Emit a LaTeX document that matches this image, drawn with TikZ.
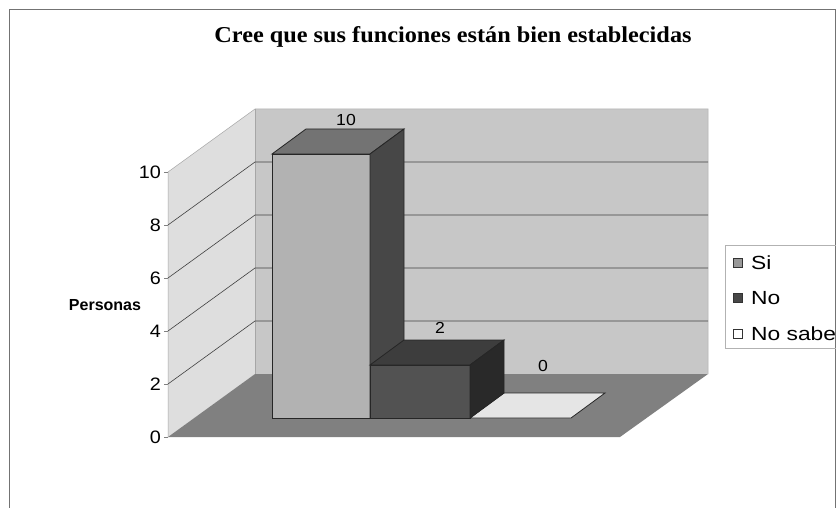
\documentclass[tikz,border=0pt]{standalone}
\usepackage{graphicx}
\usepackage{fontspec}
\setmainfont{Liberation Sans}
\newfontfamily\titlefont{Liberation Serif}
\newcommand\wx[2]{\scalebox{#1}[1]{#2}}
\begin{document}
\begin{tikzpicture}[x=1pt,y=-1pt,
  lbl/.style={font=\fontsize{16}{16}\selectfont, inner sep=0pt},
  ylbl/.style={font=\fontsize{18}{18}\selectfont, inner sep=0pt, anchor=east},
  leglbl/.style={font=\fontsize{19}{19}\selectfont, inner sep=0pt, anchor=west},
  grid line/.style={draw=black!75, line width=0.6pt},
  face/.style={draw=black!85, line width=0.8pt},
  legmark/.style={minimum size=9pt, inner sep=0pt, draw=black!80, line width=0.5pt}
]
\useasboundingbox (0,0) rectangle (836,508);
\fill[white] (0,0) rectangle (836,508);
% outer frame
\draw[black!55, line width=1pt] (9,10) rectangle (835,512);
% title
\node[font=\titlefont\bfseries\fontsize{22.7}{22.7}\selectfont, inner sep=0pt, anchor=base] (title) at (453,43) {\wx{1.07}{Cree que sus funciones están bien establecidas}};
% walls
\fill[black!13] (168,437) -- (255,374) -- (255,109) -- (168,172) -- cycle;
\fill[black!22] (255,109) rectangle (708,374);
\draw[black!35, line width=0.5pt] (168,437) -- (168,172) -- (255,109) -- (708,109) -- (708,374);
\draw[black!35, line width=0.5pt] (255,109) -- (255,374);
% floor
\fill[black!50] (168,437) -- (620,437) -- (708,374) -- (255,374) -- cycle;
% gridlines
\foreach \v in {2,4,6,8} {
  \draw[grid line] (168,{437-26.5*\v}) -- (255,{374-26.5*\v}) -- (708,{374-26.5*\v});
}
% ticks and y labels
\foreach \v/\n in {0/y0,2/y2,4/y4,6/y6,8/y8,10/y10} {
  \draw[black!50] (164,{437-26.5*\v}) -- (168,{437-26.5*\v});
  \node[ylbl] (\n) at (161,{437-26.5*\v}) {\wx{1.1}{\v}};
}
\node[font=\bfseries\fontsize{16}{16}\selectfont, inner sep=0pt] (ytitle) at (105,305) {Personas};
% bar No sabe (0)
\filldraw[face, fill=black!10] (470,418) -- (571,418) -- (605,393) -- (504,393) -- cycle;
% bar Si (10)
\filldraw[face, fill=black!30] (272,418) rectangle (370,154);
\filldraw[face, fill=black!55] (272,154) -- (306,129) -- (404,129) -- (370,154) -- cycle;
\filldraw[face, fill=black!72] (370,154) -- (404,129) -- (404,393) -- (370,418) -- cycle;
% bar No (2)
\filldraw[face, fill=black!68] (370,418) rectangle (470,365);
\filldraw[face, fill=black!76] (370,365) -- (404,340) -- (504,340) -- (470,365) -- cycle;
\filldraw[face, fill=black!84] (470,365) -- (504,340) -- (504,393) -- (470,418) -- cycle;
% value labels
\node[lbl] (v10) at (346,120) {\wx{1.1}{10}};
\node[lbl] (v2) at (440,328) {\wx{1.1}{2}};
\node[lbl] (v0) at (543,366) {\wx{1.1}{0}};
% legend
\draw[black!30, line width=0.6pt] (725,245) rectangle (840,348);
\node[legmark, fill=black!40] (m1) at (738,263) {};
\node[legmark, fill=black!72] (m2) at (738,298) {};
\node[legmark, fill=white] (m3) at (738,334) {};
\node[leglbl] (l1) at (751,263) {\wx{1.2}{Si}};
\node[leglbl] (l2) at (751,298) {\wx{1.2}{No}};
\node[leglbl] (l3) at (751,334) {\wx{1.2}{No sabe}};
\end{tikzpicture}
\end{document}
